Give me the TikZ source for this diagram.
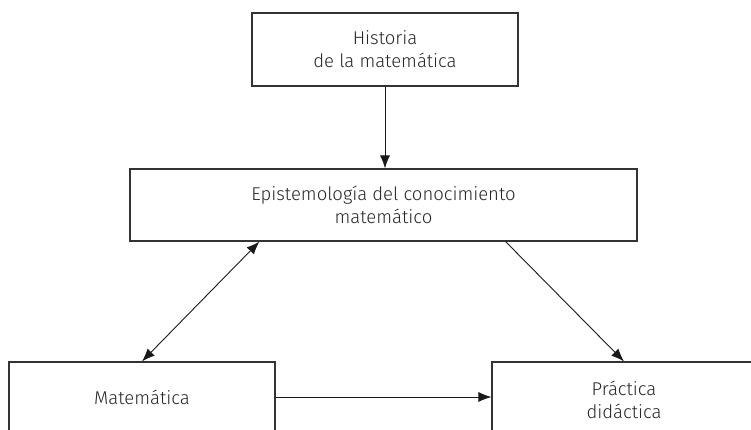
\documentclass[tikz,border=0pt]{standalone}
\usepackage{fontspec}
\setmainfont{Fira Sans}[UprightFont={* Light}]
\usetikzlibrary{arrows.meta}

\begin{document}
\begin{tikzpicture}[x=1pt,y=1pt,
      caja/.style={draw=black!80,line width=1.1pt,text=black!85,align=center,
        inner sep=0pt,font=\fontsize{18.5}{23}\selectfont},
      flecha/.style={line width=0.9pt,draw=black!90,>={Latex[length=13pt,width=10pt]}}]
    \clip (0,0) rectangle (751,430);
    \node[caja,minimum width=266pt,minimum height=73pt] (hist) at (385,380.5)
      {Historia\\de la matemática};
    \node[caja,minimum width=507pt,minimum height=72pt] (epis) at (383.5,225)
      {Epistemología del conocimiento\\matemático};
    \node[caja,minimum width=266pt,minimum height=70pt] (mate) at (142,33)
      {Matemática};
    \node[caja,minimum width=264pt,minimum height=76pt] (prac) at (624,30)
      {Práctica\\didáctica};
    \draw[flecha,->] (hist.south) -- (hist.south |- epis.north);
    \draw[flecha,<->] (mate.north) -- ([xshift=130pt]epis.south west);
    \draw[flecha,->] ([xshift=-132pt]epis.south east) -- (prac.north);
    \draw[flecha,->] (mate.east) -- (mate.east -| prac.west);
  \end{tikzpicture}
\end{document}
